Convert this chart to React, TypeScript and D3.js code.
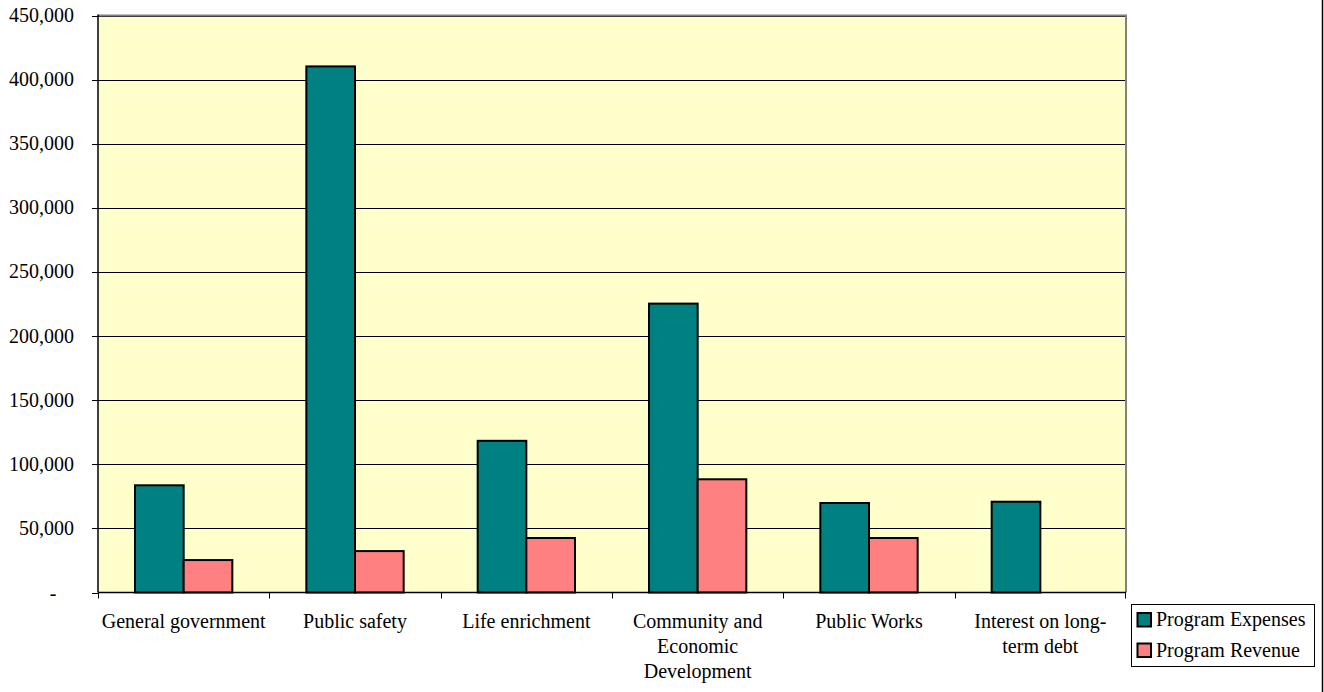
import React from "react";
import * as d3 from "d3";

// Program expenses vs. program revenue by function
const categories: string[][] = [
  ["General government"],
  ["Public safety"],
  ["Life enrichment"],
  ["Community and", "Economic", "Development"],
  ["Public Works"],
  ["Interest on long-", "term debt"],
];
const seriesNames = ["Program Expenses", "Program Revenue"];
const programExpenses = [83600, 410300, 118300, 225300, 69800, 70800];
const programRevenue = [25300, 32300, 42500, 88300, 42500, 0];
const yTicks = [0, 50000, 100000, 150000, 200000, 250000, 300000, 350000, 400000, 450000];
const seriesColors = ["#008080", "#FF8080"];

const W = 1324;
const H = 692;
const plot = { left: 98, top: 15.5, right: 1126, bottom: 592.5 };
const FONT = "'Liberation Serif', 'Times New Roman', serif";

export default function App() {
  const x = d3
    .scaleBand<number>()
    .domain(categories.map((_, i) => i))
    .range([plot.left, plot.right])
    .padding(0);
  const bw = x.bandwidth();
  const inner = d3
    .scaleBand<number>()
    .domain([0, 1])
    .range([bw * 0.216, bw * 0.784])
    .padding(0);
  const y = d3.scaleLinear().domain([0, 450000]).range([plot.bottom, plot.top]);
  const fmt = d3.format(",");
  const series = [programExpenses, programRevenue];

  return (
    <svg
      width={W}
      height={H}
      style={{ position: "absolute", left: 0, top: 0, background: "#fff" }}
      fontFamily={FONT}
    >
      {/* plot area */}
      <rect
        x={plot.left}
        y={plot.top}
        width={plot.right - plot.left}
        height={plot.bottom - plot.top}
        fill="#FFFFCC"
      />
      {/* gridlines */}
      {yTicks.slice(1).map((t) => (
        <line
          key={t}
          x1={plot.left}
          x2={plot.right}
          y1={Math.round(y(t)) + 0.5}
          y2={Math.round(y(t)) + 0.5}
          stroke="#000"
          strokeWidth={1}
        />
      ))}
      {/* plot border top/right */}
      <polyline
        points={`${plot.left},${plot.top} ${plot.right},${plot.top} ${plot.right},${plot.bottom}`}
        fill="none"
        stroke="#808080"
        strokeWidth={2}
      />
      {/* bars */}
      {series.map((vals, s) =>
        vals.map((v, i) =>
          v > 0 ? (
            <rect
              key={`${s}-${i}`}
              x={(x(i) as number) + (inner(s) as number)}
              y={y(v)}
              width={inner.bandwidth()}
              height={y(0) - y(v)}
              fill={seriesColors[s]}
              stroke="#000"
              strokeWidth={2}
            />
          ) : null
        )
      )}
      {/* y axis */}
      <line x1={plot.left} x2={plot.left} y1={plot.top - 1} y2={plot.bottom} stroke="#000" strokeWidth={1.5} />
      {yTicks.map((t) => (
        <g key={t}>
          <line x1={plot.left - 6} x2={plot.left} y1={Math.round(y(t)) + 0.5} y2={Math.round(y(t)) + 0.5} stroke="#000" />
          {t === 0 ? (
            <text x={53} y={y(t) + 7} fontSize={20} textAnchor="middle" fill="#000">
              -
            </text>
          ) : (
            <text x={74} y={y(t) + 6.5} fontSize={20} textAnchor="end" fill="#000">
              {fmt(t)}
            </text>
          )}
        </g>
      ))}
      {/* x axis */}
      <line x1={plot.left} x2={plot.right} y1={plot.bottom} y2={plot.bottom} stroke="#000" strokeWidth={1.5} />
      {categories.map((_, i) => (
        <line
          key={`t${i}`}
          x1={Math.round(x(i) as number) + 0.5}
          x2={Math.round(x(i) as number) + 0.5}
          y1={plot.bottom}
          y2={plot.bottom + 6}
          stroke="#000"
        />
      ))}
      <line x1={plot.right - 0.5} x2={plot.right - 0.5} y1={plot.bottom} y2={plot.bottom + 6} stroke="#000" />
      {categories.map((lines, i) => (
        <text
          key={`c${i}`}
          x={(x(i) as number) + bw / 2}
          y={628}
          fontSize={20}
          textAnchor="middle"
          fill="#000"
        >
          {lines.map((l, j) => (
            <tspan key={j} x={(x(i) as number) + bw / 2} dy={j === 0 ? 0 : 25}>
              {l}
            </tspan>
          ))}
        </text>
      ))}
      {/* legend */}
      <rect x={1131.5} y={604.5} width={183} height={62} fill="#fff" stroke="#000" strokeWidth={1} />
      {seriesNames.map((name, s) => (
        <g key={name}>
          <rect
            x={1137.5}
            y={613 + s * 30.5}
            width={13.5}
            height={13.5}
            fill={seriesColors[s]}
            stroke="#000"
            strokeWidth={2}
          />
          <text x={1156} y={626 + s * 30.5} fontSize={20} fill="#000">
            {name}
          </text>
        </g>
      ))}
      {/* chart frame edge */}
      <line x1={1322.5} x2={1322.5} y1={0} y2={H} stroke="#000" strokeWidth={1.5} />
    </svg>
  );
}
